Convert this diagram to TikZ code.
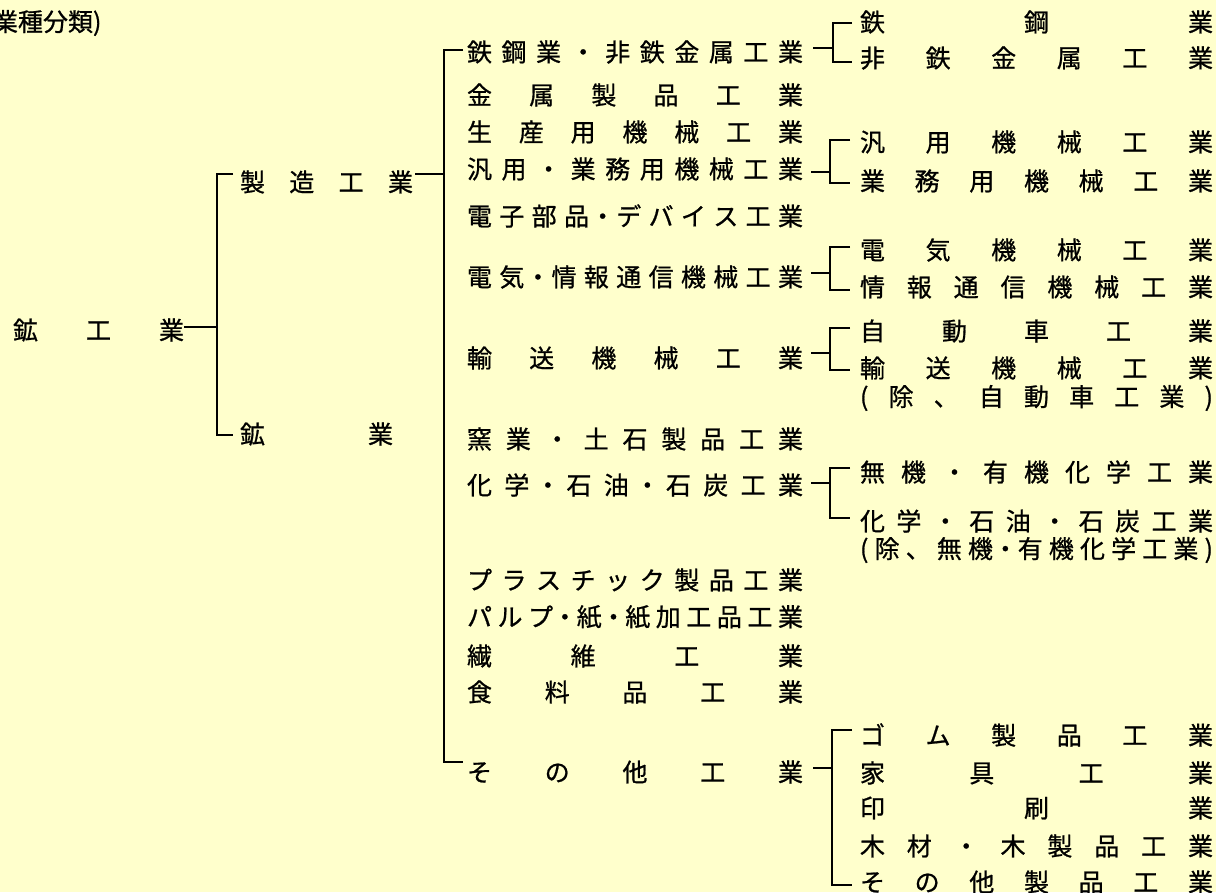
\documentclass[tikz,border=0pt]{standalone}
\usepackage{fontspec}
\newfontfamily\jp[FakeBold=0.8]{Noto Sans CJK JP}
\definecolor{bg}{HTML}{FFFFCC}
\makeatletter
\def\spreadchars#1{\spr@first#1\relax}
\def\spr@first#1{#1\spr@next}
\def\spr@next#1{\ifx#1\relax\else\hfill#1\expandafter\spr@next\fi}
\makeatother
\newcommand\jrow[2]{\makebox[#1][s]{\spreadchars{#2}}}
\newcommand\hd{\makebox[12.5pt]{・}}
\tikzset{
  lbl/.style={anchor=west, inner sep=0pt, outer sep=0pt, font=\jp\fontsize{25}{25}\selectfont, text=black},
  conn/.style={line width=1.8pt, draw=black},
}
\begin{document}
\begin{tikzpicture}[x=1pt,y=-1pt]
\fill[bg] (0,0) rectangle (1216,892);
\useasboundingbox (0,0) rectangle (1216,892);
% title
\node[lbl] (title) at (-7,23) {業種分類)};
% level 0/1
\node[lbl] (root) at (13,330) {\jrow{171pt}{鉱工業}};
\node[lbl] (seizo) at (240,182) {\jrow{173pt}{製造工業}};
\node[lbl] (kogyo) at (240,434) {\jrow{153pt}{鉱業}};
% level 2
\node[lbl] (r1) at (467,52) {\jrow{336pt}{鉄鋼業・非鉄金属工業}};
\node[lbl] (r2) at (467,95) {\jrow{336pt}{金属製品工業}};
\node[lbl] (r3) at (467,132) {\jrow{336pt}{生産用機械工業}};
\node[lbl] (r4) at (467,169) {\jrow{336pt}{汎用・業務用機械工業}};
\node[lbl] (r5) at (467,216) {\jrow{336pt}{電子部品\hd デバイス工業}};
\node[lbl] (r6) at (467,277) {\jrow{336pt}{電気\hd 情報通信機械工業}};
\node[lbl] (r7) at (467,358) {\jrow{336pt}{輸送機械工業}};
\node[lbl] (r8) at (467,439) {\jrow{336pt}{窯業・土石製品工業}};
\node[lbl] (r9) at (467,485) {\jrow{336pt}{化学\hd 石油\hd 石炭工業}};
\node[lbl] (r10) at (467,580) {\jrow{336pt}{プラスチック製品工業}};
\node[lbl] (r11) at (467,617) {\jrow{336pt}{パルプ\hd 紙\hd 紙加工品工業}};
\node[lbl] (r12) at (467,656) {\jrow{336pt}{繊維工業}};
\node[lbl] (r13) at (467,692) {\jrow{336pt}{食料品工業}};
\node[lbl] (r14) at (467,772) {\jrow{336pt}{その他工業}};
% level 3
\node[lbl] (s1) at (860,22) {\jrow{353pt}{鉄鋼業}};
\node[lbl] (s2) at (860,58) {\jrow{353pt}{非鉄金属工業}};
\node[lbl] (s3) at (860,142) {\jrow{353pt}{汎用機械工業}};
\node[lbl] (s4) at (860,181) {\jrow{353pt}{業務用機械工業}};
\node[lbl] (s5) at (860,250) {\jrow{353pt}{電気機械工業}};
\node[lbl] (s6) at (860,287) {\jrow{353pt}{情報通信機械工業}};
\node[lbl] (s7) at (860,331) {\jrow{353pt}{自動車工業}};
\node[lbl] (s8) at (860,368) {\jrow{353pt}{輸送機械工業}};
\node[lbl] (s9) at (860,398) {\jrow{353pt}{(除、自動車工業)}};
\node[lbl] (s10) at (860,472) {\jrow{353pt}{無機・有機化学工業}};
\node[lbl] (s11) at (860,521) {\jrow{353pt}{化学・石油・石炭工業}};
\node[lbl] (s12) at (860,550) {\jrow{353pt}{(除、無機\hd 有機化学工業)}};
\node[lbl] (s13) at (860,735) {\jrow{353pt}{ゴム製品工業}};
\node[lbl] (s14) at (860,773) {\jrow{353pt}{家具工業}};
\node[lbl] (s15) at (860,808) {\jrow{353pt}{印刷業}};
\node[lbl] (s16) at (860,846) {\jrow{353pt}{木材・木製品工業}};
\node[lbl] (s17) at (860,882) {\jrow{353pt}{その他製品工業}};
% connectors level 0-1
\coordinate (v1t) at (217,174);
\coordinate (v1m) at (217,327);
\coordinate (v1b) at (217,435);
\draw[conn] (root.east |- v1m) -- (v1m);
\draw[conn] ([xshift=-7pt]seizo.west |- v1t) -- (v1t) -- (v1b) -- ([xshift=-7pt]kogyo.west |- v1b);
% level 1-2
\coordinate (v2t) at (444,50);
\coordinate (v2m) at (444,174);
\coordinate (v2b) at (444,762);
\draw[conn] ([xshift=2pt]seizo.east |- v2m) -- (v2m);
\draw[conn] ([xshift=-4pt]r1.west |- v2t) -- (v2t) -- (v2b) -- ([xshift=-4pt]r14.west |- v2b);
% brackets level 2-3
\coordinate (b1m) at (833,48); \coordinate (b1t) at (833,23); \coordinate (b1b) at (833,62);
\draw[conn] ([xshift=10pt]r1.east |- b1m) -- (b1m);
\draw[conn] ([xshift=-8pt]s1.west |- b1t) -- (b1t) -- (b1b) -- ([xshift=-8pt]s2.west |- b1b);
\coordinate (b2m) at (830,172); \coordinate (b2t) at (830,140); \coordinate (b2b) at (830,183);
\draw[conn] ([xshift=8pt]r4.east |- b2m) -- (b2m);
\draw[conn] ([xshift=-10pt]s3.west |- b2t) -- (b2t) -- (b2b) -- ([xshift=-10pt]s4.west |- b2b);
\coordinate (b3m) at (830,273); \coordinate (b3t) at (830,247); \coordinate (b3b) at (830,290);
\draw[conn] ([xshift=8pt]r6.east |- b3m) -- (b3m);
\draw[conn] ([xshift=-10pt]s5.west |- b3t) -- (b3t) -- (b3b) -- ([xshift=-10pt]s6.west |- b3b);
\coordinate (b4m) at (830,353); \coordinate (b4t) at (830,328); \coordinate (b4b) at (830,370);
\draw[conn] ([xshift=8pt]r7.east |- b4m) -- (b4m);
\draw[conn] ([xshift=-10pt]s7.west |- b4t) -- (b4t) -- (b4b) -- ([xshift=-10pt]s8.west |- b4b);
\coordinate (b5m) at (830,483); \coordinate (b5t) at (830,468); \coordinate (b5b) at (830,518);
\draw[conn] ([xshift=8pt]r9.east |- b5m) -- (b5m);
\draw[conn] ([xshift=-10pt]s10.west |- b5t) -- (b5t) -- (b5b) -- ([xshift=-10pt]s11.west |- b5b);
\coordinate (b6m) at (832,768); \coordinate (b6t) at (832,730); \coordinate (b6b) at (832,885);
\draw[conn] ([xshift=10pt]r14.east |- b6m) -- (b6m);
\draw[conn] ([xshift=-8pt]s13.west |- b6t) -- (b6t) -- (b6b) -- ([xshift=-8pt]s17.west |- b6b);
\end{tikzpicture}
\end{document}
